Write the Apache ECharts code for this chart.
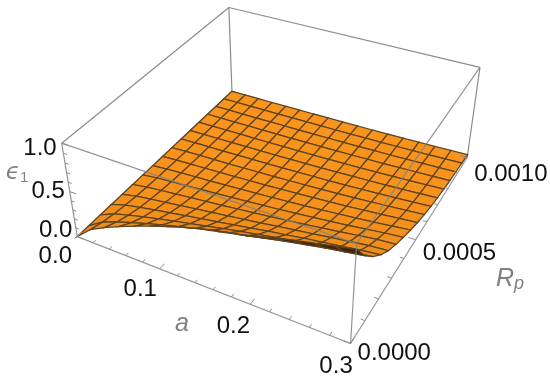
<!DOCTYPE html>
<html>
<head>
<meta charset="utf-8">
<style>html,body{margin:0;padding:0;background:#fff}#chart{width:550px;height:377px}</style>
<script src="https://cdn.jsdelivr.net/npm/echarts@6/dist/echarts.min.js"></script>
</head>
<body>
<div id="chart"></div>
<script>
// mesh lines of the surface
const aValues = [0, 0.01875, 0.0375, 0.05625, 0.075, 0.09375, 0.1125, 0.13125, 0.15, 0.16875, 0.1875, 0.20625, 0.225, 0.24375, 0.2625, 0.28125, 0.3]
const rpValues = [0, 0.0000625, 0.000125, 0.0001875, 0.00025, 0.0003125, 0.000375, 0.0004375, 0.0005, 0.0005625, 0.000625, 0.0006875, 0.00075, 0.0008125, 0.000875, 0.0009375, 0.001]
// epsilon_1, one row per a value
const epsRows = [
  [0, 0, 0, 0, 0, 0, 0, 0, 0, 0, 0, 0, 0, 0, 0, 0, 0],
  [.144, .104, .075, .055, .039, .029, .021, .015, .011, .008, .006, .004, .003, .002, .002, .001, .001],
  [.233, .170, .124, .090, .066, .048, .035, .026, .019, .014, .010, .007, .005, .004, .003, .002, .002],
  [.310, .228, .168, .123, .090, .066, .049, .036, .027, .020, .014, .011, .008, .006, .004, .003, .002],
  [.379, .281, .208, .154, .114, .085, .063, .046, .034, .025, .019, .014, .010, .008, .006, .004, .003],
  [.443, .331, .247, .184, .138, .103, .077, .057, .043, .032, .024, .018, .013, .010, .007, .006, .004],
  [.503, .379, .285, .214, .161, .121, .091, .069, .052, .039, .029, .022, .017, .012, .009, .007, .005],
  [.560, .425, .322, .244, .185, .141, .107, .081, .061, .046, .035, .027, .020, .015, .012, .009, .007],
  [.610, .471, .360, .275, .210, .161, .123, .094, .072, .055, .042, .032, .024, .019, .014, .011, .008],
  [.650, .510, .396, .305, .235, .181, .139, .107, .083, .064, .049, .038, .029, .022, .017, .013, .010],
  [.690, .545, .430, .337, .262, .203, .158, .122, .095, .074, .057, .044, .034, .027, .021, .016, .012],
  [.740, .585, .465, .365, .288, .225, .176, .138, .108, .085, .066, .052, .040, .032, .025, .019, .015],
  [.785, .625, .495, .395, .312, .250, .197, .155, .122, .097, .076, .060, .047, .037, .029, .023, .018],
  [.830, .660, .525, .420, .340, .274, .218, .173, .138, .110, .087, .069, .055, .044, .035, .028, .022],
  [.870, .695, .555, .445, .365, .300, .241, .193, .154, .124, .099, .079, .063, .051, .041, .033, .026],
  [.910, .725, .585, .475, .390, .325, .265, .214, .173, .139, .112, .091, .073, .059, .048, .039, .031],
  [.950, .755, .610, .495, .405, .340, .285, .236, .192, .156, .127, .103, .084, .068, .056, .045, .037]
]
const aTicks = [0, 0.02, 0.04, 0.06, 0.08, 0.1, 0.12, 0.14, 0.16, 0.18, 0.2, 0.22, 0.24, 0.26, 0.28, 0.3]
const aLabels = [0, 0.1, 0.2, 0.3]
const rpTicks = [0, 0.0001, 0.0002, 0.0003, 0.0004, 0.0005, 0.0006, 0.0007, 0.0008, 0.0009, 0.001]
const rpLabels = [0, 0.0005, 0.001]
const epsTicks = [0, 0.1, 0.2, 0.3, 0.4, 0.5, 0.6, 0.7, 0.8, 0.9, 1]
const epsLabels = [0, 0.5, 1]

const A_MAX = 0.3
const RP_MAX = 0.001

// where the unit box corners land on screen, [a, rp, eps, px, py]
const boxCorners = [
  [0, 0, 0, 78, 238], [1, 0, 0, 350, 344], [0, 1, 0, 231, 94], [1, 1, 0, 468, 153],
  [0, 0, 1, 62, 140], [1, 0, 1, 356, 245], [0, 1, 1, 229, 6], [1, 1, 1, 480, 71]
]

// camera matrix from the corners (least squares, last element fixed to 1)
function solveCamera (corners) {
  const rows = []
  corners.forEach(([x, y, z, u, v]) => {
    rows.push([x, y, z, 1, 0, 0, 0, 0, -u * x, -u * y, -u * z, u])
    rows.push([0, 0, 0, 0, x, y, z, 1, -v * x, -v * y, -v * z, v])
  })
  const n = 11
  const m = []
  for (let i = 0; i < n; i++) {
    m.push([])
    for (let j = 0; j <= n; j++) m[i].push(rows.reduce((s, r) => s + r[i] * r[j], 0))
  }
  for (let i = 0; i < n; i++) {
    let p = i
    for (let k = i + 1; k < n; k++) if (Math.abs(m[k][i]) > Math.abs(m[p][i])) p = k
    ;[m[i], m[p]] = [m[p], m[i]]
    for (let k = 0; k < n; k++) {
      if (k === i) continue
      const f = m[k][i] / m[i][i]
      for (let j = i; j <= n; j++) m[k][j] -= f * m[i][j]
    }
  }
  return m.map((r, i) => r[n] / r[i])
}
const cam = solveCamera(boxCorners)

function depth (x, y, z) {
  return cam[8] * x + cam[9] * y + cam[10] * z + 1
}
function project (x, y, z) {
  const w = depth(x, y, z)
  return [
    (cam[0] * x + cam[1] * y + cam[2] * z + cam[3]) / w,
    (cam[4] * x + cam[5] * y + cam[6] * z + cam[7]) / w
  ]
}
const boxA = v => v / A_MAX
const boxR = v => v / RP_MAX

// surface cells, far ones first
function gridPoint (i, j) {
  return [boxA(aValues[i]), boxR(rpValues[j]), epsRows[i][j]]
}
const cells = []
for (let i = 0; i < aValues.length - 1; i++) {
  for (let j = 0; j < rpValues.length - 1; j++) {
    const c = [gridPoint(i, j), gridPoint(i + 1, j), gridPoint(i + 1, j + 1), gridPoint(i, j + 1)]
    const d = c.reduce((s, p) => s + depth(p[0], p[1], p[2]), 0)
    cells.push({ value: [i, j], d })
  }
}
cells.sort((p, q) => q.d - p.d)

function cellFill (corners3d, pts) {
  let area = 0
  pts.forEach((p, k) => {
    const q = pts[(k + 1) % 4]
    area += p[0] * q[1] - q[0] * p[1]
  })
  if (area > 0) return '#3c2410'
  // lighter where it lies flat
  const dx = corners3d[2][2] - corners3d[0][2]
  const dy = corners3d[3][2] - corners3d[1][2]
  const slope = Math.min(1, Math.sqrt(dx * dx + dy * dy) * 1.6)
  const f = 1 - 0.22 * slope
  return `rgb(${Math.round(249 * f)},${Math.round(148 * f)},${Math.round(28 * f)})`
}

function renderCell (params, api) {
  const i = api.value(0)
  const j = api.value(1)
  const c = [gridPoint(i, j), gridPoint(i + 1, j), gridPoint(i + 1, j + 1), gridPoint(i, j + 1)]
  const pts = c.map(p => project(p[0], p[1], p[2]))
  return {
    type: 'polygon',
    shape: { points: pts },
    style: { fill: cellFill(c, pts), stroke: '#5f431f', lineWidth: 1.25 }
  }
}

// frame edges as pairs of box corners
const backEdges = [
  [[0, 0, 0], [0, 1, 0]], [[0, 1, 0], [1, 1, 0]], [[0, 0, 1], [0, 1, 1]],
  [[0, 1, 1], [1, 1, 1]], [[0, 1, 0], [0, 1, 1]], [[1, 1, 0], [1, 1, 1]]
]
const frontEdges = [
  [[0, 0, 1], [1, 0, 1]], [[1, 0, 1], [1, 1, 1]], [[1, 0, 0], [1, 0, 1]],
  [[0, 0, 0], [0, 0, 1]], [[0, 0, 0], [1, 0, 0]], [[1, 0, 0], [1, 1, 0]]
]
const tickSegments = []
aTicks.forEach(t => {
  const len = aLabels.some(v => Math.abs(v - t) < 1e-9) ? 0.026 : 0.014
  tickSegments.push([[boxA(t), 0, 0], [boxA(t), len, 0]])
})
rpTicks.forEach(t => {
  const len = rpLabels.some(v => Math.abs(v - t) < 1e-9) ? 0.026 : 0.014
  tickSegments.push([[1, boxR(t), 0], [1 - len, boxR(t), 0]])
})
epsTicks.forEach(t => {
  const len = epsLabels.some(v => Math.abs(v - t) < 1e-9) ? 0.026 : 0.014
  tickSegments.push([[len, 0, t], [0, 0, t]])
})

function lineSeries (segments, color, width) {
  return {
    type: 'custom',
    coordinateSystem: 'none',
    silent: true,
    animation: false,
    data: segments.map((s, i) => [i]),
    renderItem (params, api) {
      const s = segments[api.value(0)]
      const p = project(s[0][0], s[0][1], s[0][2])
      const q = project(s[1][0], s[1][1], s[1][2])
      return {
        type: 'line',
        shape: { x1: p[0], y1: p[1], x2: q[0], y2: q[1] },
        style: { stroke: color, lineWidth: width }
      }
    }
  }
}

const labelFont = '"Liberation Sans", sans-serif'
const labelColor = '#111'
const tickTexts = []
aLabels.forEach(v => {
  const p = project(boxA(v), 0, 0)
  tickTexts.push({ text: v.toFixed(1), x: p[0] - 22 + 25 * v, y: p[1] + 20 + 10 * v, align: 'center' })
})
rpLabels.forEach(v => {
  const p = project(1, boxR(v), 0)
  tickTexts.push({ text: v.toFixed(4), x: p[0] + 7, y: p[1] + 10 + 7000 * v, align: 'left' })
})
epsLabels.forEach(v => {
  const p = project(0, 0, v)
  tickTexts.push({ text: v.toFixed(1), x: p[0] - 5, y: p[1] - 6 + 11 * v, align: 'right' })
})

const titles = [
  { text: '{e|ϵ}{s|1}', x: 17, y: 173 },
  { text: '{i|a}', x: 182, y: 324 },
  { text: '{i|R}{p|p}', x: 510, y: 279 }
]

const option = {
  animation: false,
  backgroundColor: '#fff',
  series: [
    lineSeries(backEdges, '#8c8c8c', 1.2),
    {
      type: 'custom',
      coordinateSystem: 'none',
      silent: true,
      animation: false,
      data: cells,
      renderItem: renderCell
    },
    lineSeries(frontEdges, 'rgba(130,130,130,0.85)', 1.2),
    lineSeries(tickSegments, '#8c8c8c', 1),
    {
      type: 'custom',
      coordinateSystem: 'none',
      silent: true,
      animation: false,
      data: tickTexts.map((t, i) => [i]),
      renderItem (params, api) {
        const t = tickTexts[api.value(0)]
        return {
          type: 'text',
          x: t.x,
          y: t.y,
          style: { text: t.text, fill: labelColor, font: `24px ${labelFont}`, align: t.align, verticalAlign: 'middle' }
        }
      }
    },
    {
      type: 'custom',
      coordinateSystem: 'none',
      silent: true,
      animation: false,
      data: titles.map((t, i) => [i]),
      renderItem (params, api) {
        const t = titles[api.value(0)]
        return {
          type: 'text',
          x: t.x,
          y: t.y,
          style: {
            text: t.text,
            align: 'center',
            verticalAlign: 'middle',
            rich: {
              e: { fill: '#808080', font: 'italic 23px "DejaVu Sans"' },
              s: { fill: '#808080', font: '15px "Liberation Sans"', padding: [10, 0, 0, 0] },
              i: { fill: '#808080', font: 'italic 25px "Liberation Sans"' },
              p: { fill: '#808080', font: 'italic 18px "Liberation Sans"', padding: [10, 0, 0, 0] }
            }
          }
        }
      }
    }
  ]
}

const chart = echarts.init(document.getElementById('chart'), null, { renderer: 'canvas' })
chart.setOption(option)
</script>
</body>
</html>
